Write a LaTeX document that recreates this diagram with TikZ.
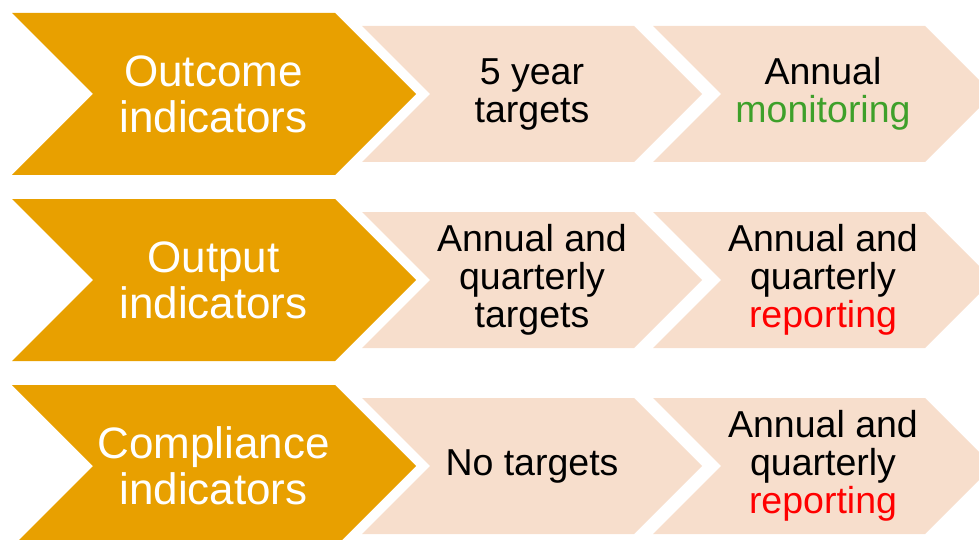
\documentclass[tikz,border=0pt]{standalone}
\usepackage{fontspec}
\setmainfont{Liberation Sans}
\definecolor{headfill}{RGB}{232,160,0}
\definecolor{stepfill}{RGB}{247,222,204}
\definecolor{goodgreen}{RGB}{62,160,42}
\definecolor{alertred}{RGB}{255,0,0}
% chevron: left x, top-right x, centre y, half height, fill style
\newcommand\chevshape[5]{%
  \fill[#5] (#1,#3-#4) -- (#2,#3-#4) -- (#2+#4,#3) -- (#2,#3+#4)
    -- (#1,#3+#4) -- (#1+#4,#3) -- cycle;}
\tikzset{
  headtext/.style={text=white, align=center, inner sep=0pt,
    font=\fontsize{44}{46}\selectfont},
  steptext/.style={text=black, align=center, inner sep=0pt,
    font=\fontsize{37.5}{38}\selectfont},
}
\begin{document}
\begin{tikzpicture}[x=1pt,y=-1pt]
\useasboundingbox (0,0) rectangle (979,540);
\clip (0,0) rectangle (979,540);
\foreach \cy in {94,280,466}{
  \chevshape{12}{335}{\cy}{81}{headfill}
  \chevshape{362}{634}{\cy}{68}{stepfill}
  \chevshape{653}{925}{\cy}{68}{stepfill}
}
% row 1
\node[headtext] (h1) at (213.5,94) {Outcome\\indicators};
\node[steptext] (a1) at (532,94) {5 year\\targets};
\node[steptext] (b1) at (823,94) {Annual\\\textcolor{goodgreen}{monitoring}};
% row 2
\node[headtext] (h2) at (213.5,280) {Output\\indicators};
\node[steptext] (a2) at (532,280) {Annual and\\quarterly\\targets};
\node[steptext] (b2) at (823,280) {Annual and\\quarterly\\\textcolor{alertred}{reporting}};
% row 3
\node[headtext] (h3) at (213.5,466) {Compliance\\indicators};
\node[steptext] (a3) at (532,466) {No targets};
\node[steptext] (b3) at (823,466) {Annual and\\quarterly\\\textcolor{alertred}{reporting}};
\end{tikzpicture}
\end{document}
